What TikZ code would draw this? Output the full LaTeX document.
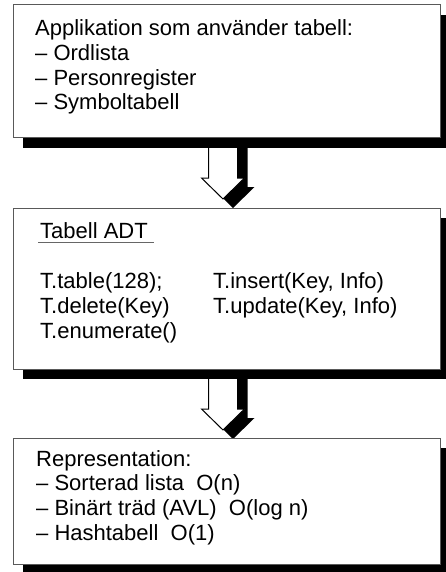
\documentclass[tikz,border=0pt]{standalone}
\usepackage{fontspec}
\setmainfont{Liberation Sans}
\usetikzlibrary{calc}
\begin{document}
\begin{tikzpicture}[x=1pt,y=-1pt,
  font=\fontsize{22}{25}\selectfont,
  panel/.style={rectangle, draw=black!65, line width=1pt, fill=white,
    inner sep=0pt, anchor=north west, minimum width=426pt},
  shadowfill/.style={fill=black},
  txt/.style={anchor=base west, inner sep=0pt},
  arrowline/.style={draw=black, line width=1pt, fill=white, line join=miter}]
\useasboundingbox (0,0) rectangle (446,572);

% the three panels (nodes first, so that the arrows can refer to them)
\node[panel, minimum height=132pt] (apps) at (13,5) {};
\node[panel, minimum height=160pt] (adt) at (13,208) {};
\node[panel, minimum height=125pt] (repr) at (13,438) {};

% hollow block arrows with drop shadows between the panels
\newcommand\blockarrowshape{(-14.5,0) -- (-14.5,40) -- (-21.5,40) -- (0,61) -- (21.5,40) -- (14.5,40) -- (14.5,0) -- cycle}
\coordinate (a1) at ($(apps.south)+(-3.5,0)$);
\coordinate (a2) at ($(adt.south)+(-3.5,0)$);
\foreach \a in {a1,a2}{
  \begin{scope}[shift={($(\a)+(10,9)$)}]
    \fill[shadowfill] \blockarrowshape;
  \end{scope}
  \begin{scope}[shift={(\a)}]
    \path[arrowline] \blockarrowshape;
  \end{scope}
}

% panel shadows and panels drawn over the arrow ends
\foreach \p in {apps,adt,repr}{
  \fill[shadowfill] ($(\p.north west)+(10,10)$) rectangle ($(\p.south east)+(10,10)$);
  \path[panel] (\p.north west) rectangle (\p.south east);
}

% first panel: applications
\node[txt] (l1) at (35,36) {Applikation som använder tabell:};
\node[txt] (l2) at (35,61) {– Ordlista};
\node[txt] (l3) at (35,86) {– Personregister};
\node[txt] (l4) at (35,110) {– Symboltabell};

% second panel: the ADT interface
\node[txt] (title) at (40,238) {Tabell ADT};
\draw[black!60, line width=1pt] ($(title.base west)+(-2,4.5)$) -- ($(title.base east)+(6,4.5)$);
\node[txt] (o1) at (40,288) {T.table(128);};
\node[txt] (o2) at (213,288) {T.insert(Key, Info)};
\node[txt] (o3) at (40,313) {T.delete(Key)};
\node[txt] (o4) at (213,313) {T.update(Key, Info)};
\node[txt] (o5) at (40,338) {T.enumerate()};

% third panel: representations
\node[txt] (r1) at (36,466) {Representation:};
\node[txt] (r2) at (36,490) {– Sorterad lista\ \ O(n)};
\node[txt] (r3) at (36,515) {– Binärt träd (AVL)\ \ O(log n)};
\node[txt] (r4) at (36,540) {– Hashtabell\ \ O(1)};
\end{tikzpicture}
\end{document}
